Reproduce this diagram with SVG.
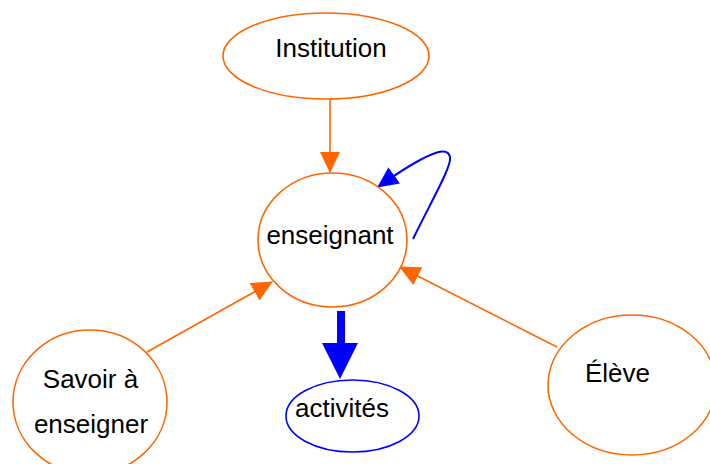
<svg xmlns="http://www.w3.org/2000/svg" width="710" height="464" viewBox="0 0 710 464">
<style>
.node{fill:#fff;stroke:#FF6600;stroke-width:1.6}
.bnode{fill:#fff;stroke:#0000FF;stroke-width:1.6}
.lbl{font-family:"Liberation Sans",Arial,sans-serif;font-size:26px;fill:#000;text-anchor:middle}
.oe{stroke:#FF6600;stroke-width:1.6;fill:none}
.be{stroke:#0000FF;stroke-width:2;fill:none}
</style>
<defs>
<marker id="ao" markerUnits="userSpaceOnUse" viewBox="0 0 21 20" refX="20" refY="10" markerWidth="21" markerHeight="20" orient="auto"><path d="M0,0 L21,10 L0,20 z" fill="#FF6600"/></marker>
<marker id="ab" markerUnits="userSpaceOnUse" viewBox="0 0 21 20" refX="20" refY="10" markerWidth="21" markerHeight="20" orient="auto"><path d="M0,0 L21,10 L0,20 z" fill="#0000FF"/></marker>
</defs>
<g id="connectors">
<line class="oe" x1="330" y1="99" x2="330" y2="172" marker-end="url(#ao)"/>
<line class="oe" x1="147" y1="352" x2="272" y2="282" marker-end="url(#ao)"/>
<line class="oe" x1="557" y1="347" x2="400" y2="267" marker-end="url(#ao)"/>
<path class="be" d="M413,239 C432,200 452,166 450,157 C448,147 435,152 420,160 C405,168 392,177 378,187" marker-end="url(#ab)"/>
<rect x="337" y="311" width="8" height="33" fill="#0000FF"/>
<polygon points="322,343 358,343 340,379" fill="#0000FF"/>
</g>
<g id="institution"><ellipse class="node" cx="326" cy="56" rx="103" ry="43"/><text class="lbl" x="331" y="57">Institution</text></g>
<g id="enseignant"><ellipse class="node" cx="332.5" cy="240" rx="74.5" ry="67"/><text class="lbl" x="330" y="244">enseignant</text></g>
<g id="savoir"><ellipse class="node" cx="90" cy="402" rx="77" ry="72"/><text class="lbl" x="90.5" y="388">Savoir à</text><text class="lbl" x="91" y="433">enseigner</text></g>
<g id="eleve"><ellipse class="node" cx="632" cy="385" rx="84" ry="70"/><text class="lbl" x="617.5" y="382">Élève</text></g>
<g id="activites"><ellipse class="bnode" cx="352.5" cy="416" rx="66.5" ry="36"/><text class="lbl" x="342" y="417">activités</text></g>
</svg>
